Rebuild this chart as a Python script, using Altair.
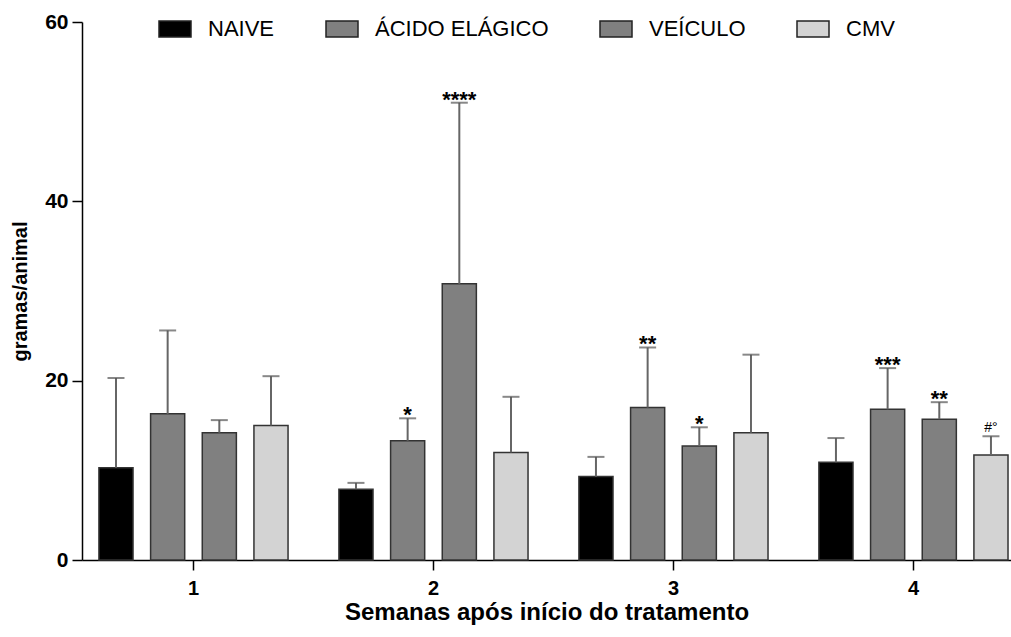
import altair as alt
import pandas as pd

weeks = ["1", "2", "3", "4"]
groups = ["NAIVE", "ÁCIDO ELÁGICO", "VEÍCULO", "CMV"]
colors = ["#000000", "#808080", "#808080", "#d3d3d3"]

naive_mean = [10.3, 7.9, 9.3, 10.9]
acido_mean = [16.3, 13.3, 17.0, 16.8]
veiculo_mean = [14.2, 30.8, 12.7, 15.7]
cmv_mean = [15.0, 12.0, 14.2, 11.7]

naive_top = [20.3, 8.6, 11.5, 13.6]
acido_top = [25.6, 15.8, 23.7, 21.4]
veiculo_top = [15.6, 51.0, 14.8, 17.6]
cmv_top = [20.5, 18.2, 22.9, 13.8]

naive_sig = ["", "", "", ""]
acido_sig = ["", "*", "**", "***"]
veiculo_sig = ["", "****", "*", "**"]
cmv_sig = ["", "", "", "#°"]

y_major = [0, 20, 40, 60]

rows = []
for g, ms, ts, ss in zip(groups,
                         [naive_mean, acido_mean, veiculo_mean, cmv_mean],
                         [naive_top, acido_top, veiculo_top, cmv_top],
                         [naive_sig, acido_sig, veiculo_sig, cmv_sig]):
    for w, m, t, s in zip(weeks, ms, ts, ss):
        rows.append({"week": w, "group": g, "mean": m, "top": t, "sig": s})
df = pd.DataFrame(rows)

FONT = "Liberation Sans"

x_enc = alt.X(
    "week:N",
    sort=weeks,
    title="Semanas após início do tratamento",
    scale=alt.Scale(paddingInner=0.212, paddingOuter=0.0415, align=0.85),
    axis=alt.Axis(labelAngle=0, labelFontSize=20, labelFontWeight="bold", labelFont=FONT,
                  titleFontSize=24, titleFontWeight="bold", titleFont=FONT,
                  tickSize=10, tickWidth=1.5, tickColor="#000", domainColor="#000",
                  domainWidth=1.5, labelPadding=8, titlePadding=2, labelColor="#000",
                  titleColor="#000"),
)
xoff = alt.XOffset("group:N", sort=groups,
                   scale=alt.Scale(domain=groups, paddingInner=0.34, paddingOuter=0))
yscale = alt.Scale(domain=[0, 60], nice=False)

base = alt.Chart(df)

bars = base.mark_bar(stroke="#333333", strokeWidth=1.5).encode(
    x=x_enc,
    xOffset=xoff,
    y=alt.Y("mean:Q", scale=yscale, title="gramas/animal",
            axis=alt.Axis(values=y_major, format="d", labelFontSize=21, labelFontWeight="bold",
                          labelFont=FONT, titleFont=FONT, titleFontSize=20,
                          titleFontWeight="bold", tickSize=10, tickWidth=1.5,
                          tickColor="#000", domainColor="#000", domainWidth=1.5,
                          labelPadding=4, titlePadding=14, orient="left",
                          labelColor="#000", titleColor="#000")),
    fill=alt.Fill("group:N", sort=groups,
                  scale=alt.Scale(domain=groups, range=colors),
                  legend=alt.Legend(title=None, orient="none", legendX=76, legendY=-10,
                                    direction="horizontal", columns=4,
                                    symbolType="M-1,-0.5L1,-0.5L1,0.5L-1,0.5Z",
                                    symbolSize=1024, symbolStrokeColor="#222",
                                    symbolStrokeWidth=1.5, labelFontSize=22,
                                    labelFont=FONT, labelColor="#000",
                                    labelOffset=16, columnPadding=48,
                                    labelLimit=400)),
)

err = base.mark_rule(color="#666666", strokeWidth=2).encode(
    x=x_enc,
    xOffset=xoff,
    y=alt.Y("mean:Q", scale=yscale, axis=None),
    y2="top:Q",
)

caps = base.mark_tick(color="#555555", thickness=2, size=17, orient="horizontal").encode(
    x=x_enc,
    xOffset=xoff,
    y=alt.Y("top:Q", scale=yscale, axis=None),
)

stars = base.transform_filter("indexof(datum.sig, '*') >= 0").mark_text(
    fontSize=22, font=FONT, fontWeight="bold", baseline="alphabetic", dy=4, color="#000"
).encode(
    x=x_enc,
    xOffset=xoff,
    y=alt.Y("top:Q", scale=yscale, axis=None),
    text="sig:N",
)

hashes = base.transform_filter("indexof(datum.sig, '#') >= 0").mark_text(
    fontSize=14, font=FONT, baseline="alphabetic", dy=-4, color="#000"
).encode(
    x=x_enc,
    xOffset=xoff,
    y=alt.Y("top:Q", scale=yscale, axis=None),
    text="sig:N",
)

chart = alt.layer(bars, err, caps, stars, hashes).resolve_axis(y="independent").properties(
    width=929,
    height=538,
    autosize=alt.AutoSizeParams(type="none"),
    padding={"left": 82, "top": 22, "right": 0, "bottom": 77},
).configure_view(stroke=None).configure_axisX(grid=False).configure_axisY(grid=False)

chart.save("out.html", embed_options={"renderer": "svg", "actions": False})
